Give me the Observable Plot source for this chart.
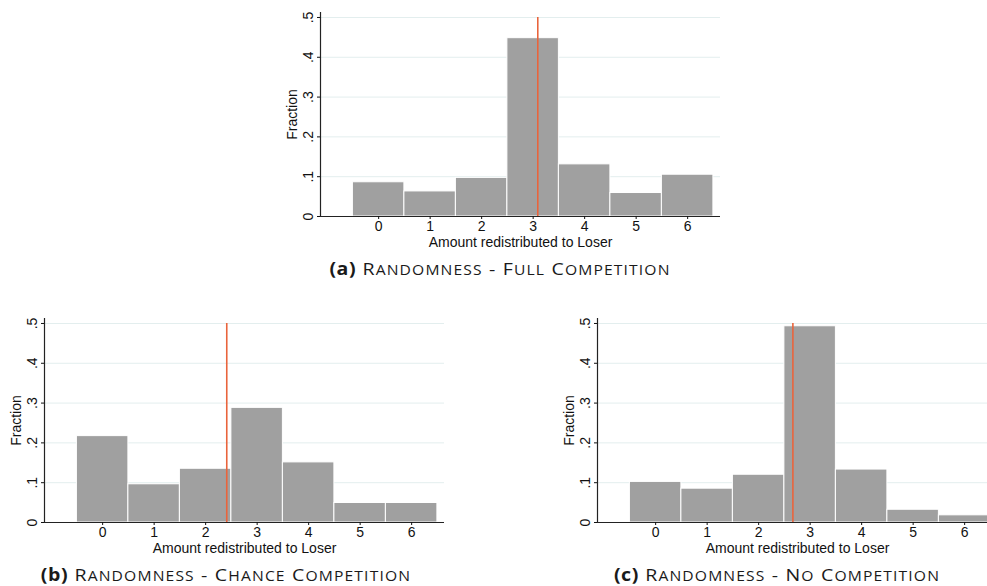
<!DOCTYPE html>
<html>
<head>
<meta charset="utf-8">
<script src="https://cdn.jsdelivr.net/npm/d3@7"></script>
<script src="https://cdn.jsdelivr.net/npm/@observablehq/plot@0.6"></script>
<style>
  html, body { margin: 0; padding: 0; background: #fff; }
  body { width: 987px; height: 586px; overflow: hidden; position: relative; }
  .panel { position: absolute; width: 455px; height: 249px; }
  .panel svg { max-width: none !important; display: block; }
  .panel svg text { font-family: "Liberation Sans", Arial, sans-serif !important; font-size: 14px !important; fill: #111; }
  .cap { position: absolute; font-family: "Open Sans", sans-serif; font-size: 17px; letter-spacing: 1px; color: #1a1a1a; white-space: nowrap; transform: translateX(-50%) scaleX(1.15); line-height: 1; }
  .cap b { font-weight: 700; letter-spacing: 0.5px; }
  .cap .sc { text-transform: uppercase; font-size: 0.8em; }
</style>
</head>
<body>
<div id="pa" class="panel" style="left:270px;top:7px"></div>
<div id="pb" class="panel" style="left:-5.7px;top:313.3px"></div>
<div id="pc" class="panel" style="left:546.7px;top:313.3px"></div>
<div id="ca" class="cap" style="left:500px;top:260px"></div>
<div id="cb" class="cap" style="left:226px;top:566px"></div>
<div id="cc" class="cap" style="left:777px;top:566px"></div>
<script>
const categories = [0, 1, 2, 3, 4, 5, 6];
const fullCompetition   = [0.086, 0.063, 0.097, 0.448, 0.131, 0.059, 0.105];
const chanceCompetition = [0.217, 0.096, 0.135, 0.288, 0.151, 0.049, 0.049];
const noCompetition     = [0.102, 0.085, 0.120, 0.493, 0.133, 0.032, 0.018];
const meanLines = [3.09, 2.41, 2.665];
const yTicks = [0, 0.1, 0.2, 0.3, 0.4, 0.5];
const xLabel = "Amount redistributed to Loser";
const yLabel = "Fraction";
const captionTags = ["(a)", "(b)", "(c)"];
const captionTexts = ["Randomness - Full Competition", "Randomness - Chance Competition", "Randomness - No Competition"];

const xDomain = [-1.129, 6.638];
const yDomain = [0, 0.5125];
const fmt = d => d === 0 ? "0" : String(+d.toFixed(1)).replace(/^0\./, ".");
const FONT = "Liberation Sans, Arial, sans-serif";

function panel(values, mean) {
  const data = categories.map((c, i) => ({c, f: values[i]}));
  return Plot.plot({
    width: 455, height: 249,
    marginLeft: 50, marginRight: 5, marginTop: 5, marginBottom: 40,
    style: {fontFamily: FONT, fontSize: "14px", color: "#111", background: "white", overflow: "visible"},
    x: {domain: xDomain},
    y: {domain: yDomain},
    marks: [
      Plot.gridY(yTicks.filter(d => d > 0), {stroke: "#e3eeee", strokeOpacity: 1, strokeWidth: 1}),
      Plot.rectY(data, {x1: d => d.c - 0.5, x2: d => d.c + 0.5, y: "f", fill: "#a0a0a0", stroke: "white", strokeWidth: 1}),
      Plot.ruleY([0], {stroke: "#222", strokeWidth: 1.2}),
      Plot.ruleX([xDomain[0]], {stroke: "#222", strokeWidth: 1.2}),
      Plot.ruleX([mean], {y1: 0, y2: 0.5, stroke: "#e9643c", strokeWidth: 1.6}),
      Plot.axisX({ticks: categories, tickFormat: d => String(d), tickSize: 3, tickPadding: 2,
        fontSize: 14, fontFamily: FONT,
        label: xLabel, labelAnchor: "center", labelArrow: "none", labelOffset: 30}),
      Plot.axisY({ticks: yTicks, tickFormat: fmt, tickSize: 3, tickPadding: 5, tickRotate: -90,
        fontSize: 14, fontFamily: FONT,
        label: yLabel, labelAnchor: "center", labelArrow: "none", labelOffset: 33})
    ]
  });
}

function caption(el, tag, text) {
  const b = document.createElement("b");
  b.textContent = tag;
  el.append(b, " ");
  text.split(" ").forEach((w, i) => {
    if (i > 0) el.append(" ");
    if (/^[A-Za-z]/.test(w)) {
      el.append(w[0]);
      const s = document.createElement("span");
      s.className = "sc";
      s.textContent = w.slice(1);
      el.append(s);
    } else {
      el.append(w);
    }
  });
}

document.getElementById("pa").append(panel(fullCompetition, meanLines[0]));
document.getElementById("pb").append(panel(chanceCompetition, meanLines[1]));
document.getElementById("pc").append(panel(noCompetition, meanLines[2]));
["ca", "cb", "cc"].forEach((id, i) => caption(document.getElementById(id), captionTags[i], captionTexts[i]));
</script>
</body>
</html>
